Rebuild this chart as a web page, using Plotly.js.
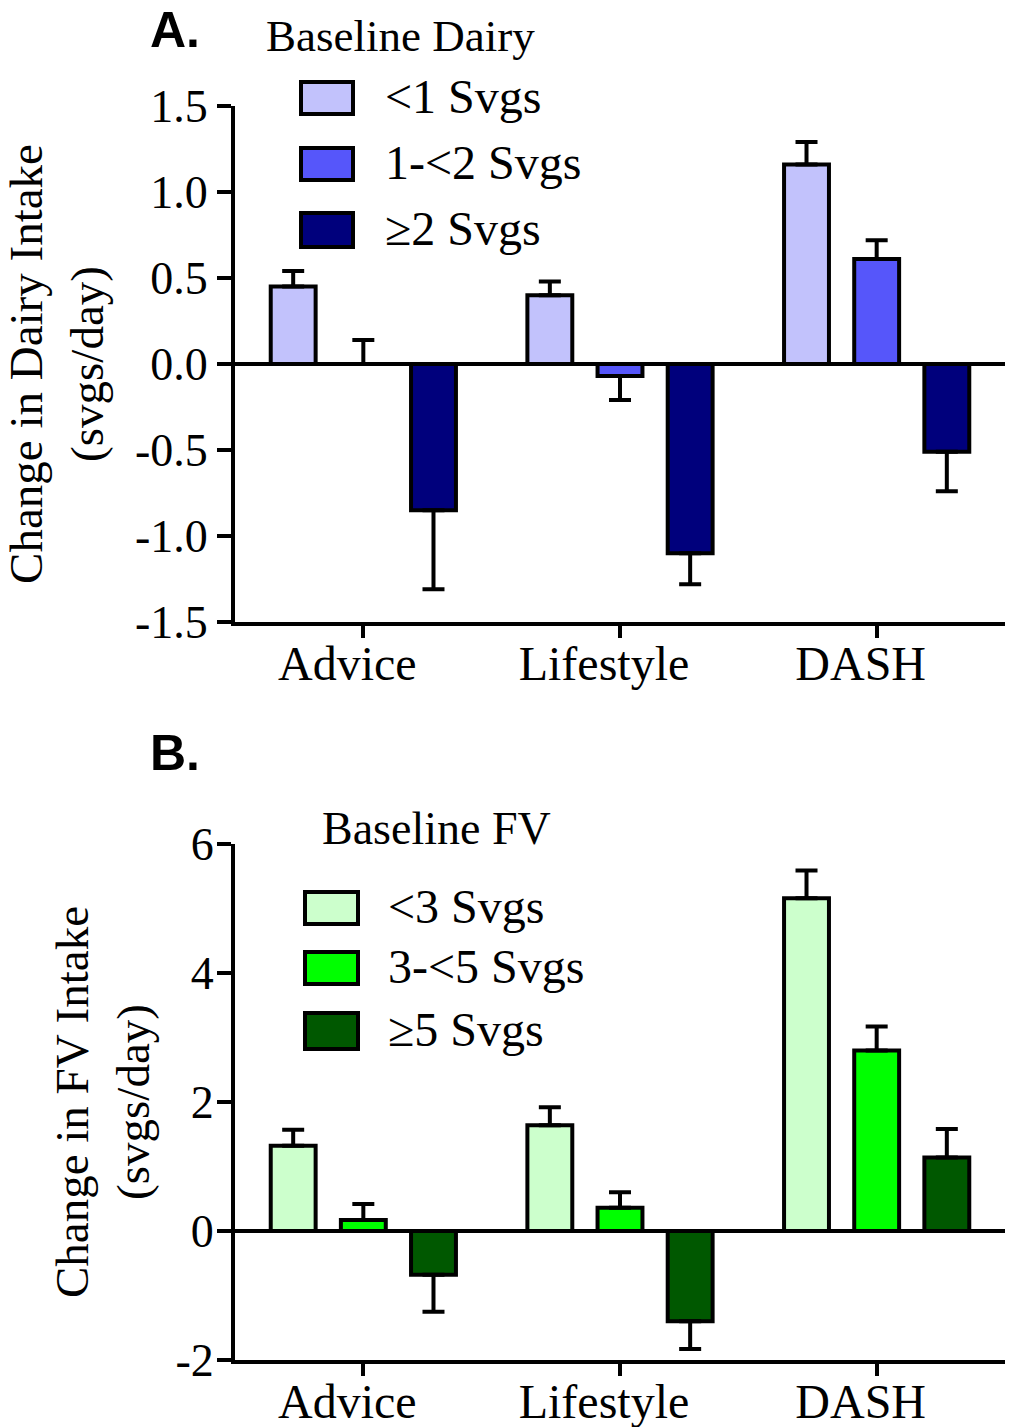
<!DOCTYPE html>
<html>
<head>
<meta charset="utf-8">
<script src="https://cdn.plot.ly/plotly-3.0.1.min.js"></script>
<style>html,body{margin:0;padding:0;background:#fff;}#chart{width:1013px;height:1427px;}</style>
</head>
<body>
<div id="chart"></div>
<script>
// ---- Data ----
const groups = ["Advice", "Lifestyle", "DASH"];

const dairyLegendTitle = "Baseline Dairy";
const dairyLabels = ["<1 Svgs", "1-<2 Svgs", "≥2 Svgs"];
const dairyLow = [0.45, 0.40, 1.16];
const dairyLowErr = [0.09, 0.08, 0.13];
const dairyMid = [0.00, -0.07, 0.61];
const dairyMidErr = [0.14, 0.14, 0.11];
const dairyHigh = [-0.85, -1.10, -0.51];
const dairyHighErr = [0.46, 0.18, 0.23];
const dairyTickVals = [-1.5, -1.0, -0.5, 0.0, 0.5, 1.0, 1.5];
const dairyTickText = ["-1.5", "-1.0", "-0.5", "0.0", "0.5", "1.0", "1.5"];

const fvLegendTitle = "Baseline FV";
const fvLabels = ["<3 Svgs", "3-<5 Svgs", "≥5 Svgs"];
const fvLow = [1.32, 1.64, 5.16];
const fvLowErr = [0.25, 0.28, 0.43];
const fvMid = [0.17, 0.36, 2.80];
const fvMidErr = [0.25, 0.24, 0.37];
const fvHigh = [-0.68, -1.40, 1.14];
const fvHighErr = [0.57, 0.43, 0.44];
const fvTickVals = [-2, 0, 2, 4, 6];
const fvTickText = ["-2", "0", "2", "4", "6"];

// ---- Styles ----
const dairyColors = ["#c2c2fc", "#5656fa", "#00007c"];
const fvColors = ["#ccffcc", "#00ff00", "#005800"];
const SERIF = "Liberation Serif, Times New Roman, serif";
const SANS = "Liberation Sans, Arial, sans-serif";

const W = 1013, H = 1427, ML = 235, MR = 8;
const PW = W - ML - MR;
const fx = px => (px - ML) / PW;
const fy = py => 1 - py / H;

function bar(vals, errs, name, color, xa, ya) {
  return {
    type: "bar", x: groups, y: vals, name: name, xaxis: xa, yaxis: ya,
    showlegend: false,
    marker: { color: color, line: { color: "#000", width: 4 } },
    error_y: {
      type: "data", symmetric: false,
      array: vals.map((v, i) => v >= 0 ? errs[i] : 0),
      arrayminus: vals.map((v, i) => v < 0 ? errs[i] : 0),
      color: "#000", thickness: 4, width: 11
    },
    hoverinfo: "skip"
  };
}

const data = [
  bar(dairyLow, dairyLowErr, dairyLabels[0], dairyColors[0], "x", "y"),
  bar(dairyMid, dairyMidErr, dairyLabels[1], dairyColors[1], "x", "y"),
  bar(dairyHigh, dairyHighErr, dairyLabels[2], dairyColors[2], "x", "y"),
  bar(fvLow, fvLowErr, fvLabels[0], fvColors[0], "x2", "y2"),
  bar(fvMid, fvMidErr, fvLabels[1], fvColors[1], "x2", "y2"),
  bar(fvHigh, fvHighErr, fvLabels[2], fvColors[2], "x2", "y2")
];

const xCommon = {
  type: "category", range: [-0.5, 2.5], showline: true, linecolor: "#000", linewidth: 4,
  ticks: "outside", ticklen: 12, tickwidth: 4, tickcolor: "#000",
  tickfont: { family: SERIF, size: 48, color: "#000" },
  showgrid: false, zeroline: false, fixedrange: true,
  ticklabelstandoff: -16, ticklabelshift: -16
};
const yCommon = {
  showline: true, linecolor: "#000", linewidth: 4,
  ticks: "outside", ticklen: 14, tickwidth: 4, tickcolor: "#000",
  tickfont: { family: SERIF, size: 46, color: "#000" },
  showgrid: false, zeroline: true, zerolinecolor: "#000", zerolinewidth: 4,
  tickmode: "array", fixedrange: true
};

const shapes = [];
const annotations = [];

function legend(title, titleSize, labels, colors, titlePos, boxX, boxYs, textX) {
  annotations.push({
    xref: "paper", yref: "paper", x: fx(titlePos[0]), y: fy(titlePos[1]),
    xanchor: "left", yanchor: "middle", showarrow: false, text: title,
    font: { family: SERIF, size: titleSize, color: "#000" }
  });
  labels.forEach((lab, i) => {
    shapes.push({
      type: "rect", xref: "paper", yref: "paper",
      x0: fx(boxX[0]), x1: fx(boxX[1]), y0: fy(boxYs[i][0]), y1: fy(boxYs[i][1]),
      fillcolor: colors[i], line: { color: "#000", width: 4 }
    });
    annotations.push({
      xref: "paper", yref: "paper", x: fx(textX), y: fy((boxYs[i][0] + boxYs[i][1]) / 2 - 2),
      xanchor: "left", yanchor: "middle", showarrow: false, text: lab,
      font: { family: SERIF, size: 48, color: "#000" }
    });
  });
}

legend(dairyLegendTitle, 45, dairyLabels, dairyColors, [264, 36], [301, 353],
  [[82, 114], [148, 180], [213, 247]], 383);
legend(fvLegendTitle, 46, fvLabels, fvColors, [320, 828], [305, 358],
  [[892, 924], [952, 984], [1013, 1049]], 386);

annotations.push({
  xref: "paper", yref: "paper", x: fx(148), y: 1, xanchor: "left", yanchor: "top",
  showarrow: false, text: "<b>A.</b>", font: { family: SANS, size: 50, color: "#000" }
});
annotations.push({
  xref: "paper", yref: "paper", x: fx(148), y: fy(723), xanchor: "left", yanchor: "top",
  showarrow: false, text: "<b>B.</b>", font: { family: SANS, size: 50, color: "#000" }
});

const layout = {
  width: W, height: H,
  margin: { l: ML, r: MR, t: 0, b: 0, pad: 0 },
  paper_bgcolor: "#fff", plot_bgcolor: "#fff",
  barmode: "group", bargap: 0.18, bargroupgap: 0.36,
  showlegend: false,
  xaxis: Object.assign({}, xCommon, { domain: [0, 1], anchor: "y" }),
  xaxis2: Object.assign({}, xCommon, { domain: [0, 1], anchor: "y2" }),
  yaxis: Object.assign({}, yCommon, {
    domain: [fy(622), fy(106)], anchor: "x", range: [-1.5, 1.5],
    tickvals: dairyTickVals, ticktext: dairyTickText, ticklabelstandoff: 0,
    title: { text: "Change in Dairy Intake<br>(svgs/day)", standoff: 38,
      font: { family: SERIF, size: 47, color: "#000" } }
  }),
  yaxis2: Object.assign({}, yCommon, {
    domain: [fy(1360), fy(844)], anchor: "x2", range: [-2, 6],
    tickvals: fvTickVals, ticktext: fvTickText, ticklabelstandoff: -6,
    title: { text: "Change in FV Intake<br>(svgs/day)", standoff: 12,
      font: { family: SERIF, size: 47, color: "#000" } }
  }),
  shapes: shapes,
  annotations: annotations
};

Plotly.newPlot("chart", data, layout, { displayModeBar: false, staticPlot: true });
</script>
</body>
</html>
